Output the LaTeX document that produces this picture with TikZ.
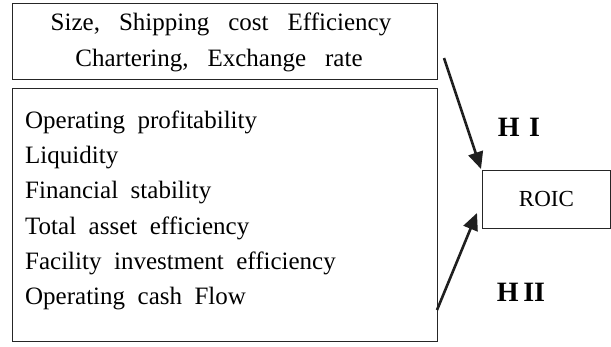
\documentclass[tikz,border=0pt]{standalone}
\usepackage{fontspec}
\setmainfont{Liberation Serif}
\usetikzlibrary{arrows.meta}
\newcommand{\gap}{\hspace{19pt}}
\begin{document}
\begin{tikzpicture}[x=1pt,y=-1pt,
  frame/.style={draw=black!85,line width=0.8pt},
  txt/.style={font=\fontsize{25}{25}\selectfont,inner sep=0pt},
  hyp/.style={font=\fontsize{28}{28}\selectfont\bfseries,inner sep=0pt},
  link/.style={draw=black!88,line width=2.6pt,-{Triangle[length=17pt,width=15pt]}}]
\useasboundingbox (0,0) rectangle (611,346);
% factor boxes
\node[frame,minimum width=425pt,minimum height=76pt,anchor=north west] (top) at (12,3) {};
\node[frame,minimum width=425pt,minimum height=253pt,anchor=north west] (bot) at (12,88) {};
\node[frame,minimum width=128pt,minimum height=58pt,anchor=north west] (roic) at (482,170) {};
\node[font=\fontsize{23}{23}\selectfont,inner sep=0pt] at (roic.center) {ROIC};
% text in the upper box
\node[txt] (t1) at (221,24) {Size,\gap Shipping\gap cost\gap Efficiency};
\node[txt] (t2) at (219,61) {Chartering,\gap Exchange\gap rate};
% list in the lower box
\foreach \i/\s in {0/Operating\ \ profitability,1/Liquidity,2/Financial\ \ stability,3/Total\ \ asset\ \ efficiency,4/Facility\ \ investment\ \ efficiency,5/Operating\ \ cash\ \ Flow}
  \node[txt,anchor=west] (l\i) at (25,{122+35.4*\i}) {\s};
% hypotheses
\node[hyp] (h1) at (519,127) {H\,\,I};
\node[hyp] (h2) at (521,292) {H\,II};
% arrows
\coordinate (a1) at (444,58);
\coordinate (a2) at (437,310);
\draw[link] (a1) -- (481,169);
\draw[link] (a2) -- (477,213);
\end{tikzpicture}
\end{document}
